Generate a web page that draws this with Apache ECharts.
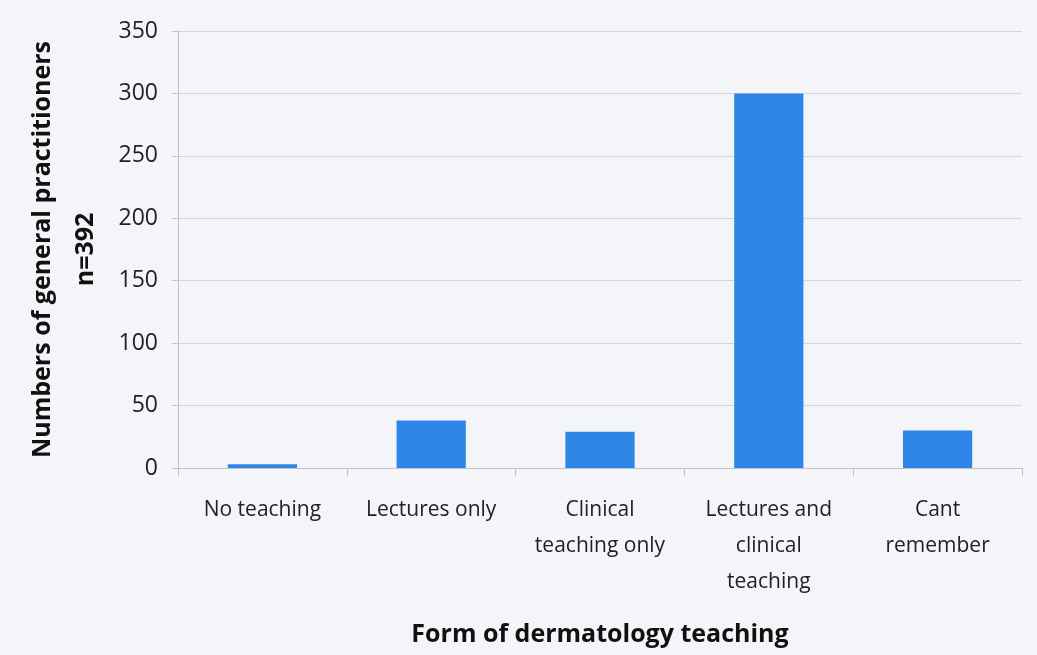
<!DOCTYPE html>
<html>
<head>
<meta charset="utf-8">
<script src="https://cdn.jsdelivr.net/npm/echarts@6/dist/echarts.min.js"></script>
<style>
  html, body { margin: 0; padding: 0; background: #f3f5f9; }
  #chart { width: 1037px; height: 655px; }
</style>
</head>
<body>
<div id="chart"></div>
<script>
// 数据
const categories = ['No teaching', 'Lectures only', 'Clinical\nteaching only', 'Lectures and\nclinical\nteaching', 'Cant\nremember'];
const counts = [3, 38, 29, 300, 30];
const yTicks = [0, 50, 100, 150, 200, 250, 300, 350];

const font = '"Open Sans", "DejaVu Sans", sans-serif';
const chart = echarts.init(document.getElementById('chart'));

const option = {
  backgroundColor: '#f3f5f9',
  textStyle: { fontFamily: font },
  grid: { left: 178, right: 15, top: 31, bottom: 187, containLabel: false, outerBoundsMode: 'none' },
  xAxis: {
    type: 'category',
    data: categories,
    name: 'Form of dermatology teaching',
    nameLocation: 'middle',
    nameGap: 154,
    nameTextStyle: { fontSize: 25, fontWeight: 'bold', color: '#111' },
    axisLine: { lineStyle: { color: '#bfc3c9' } },
    axisTick: { show: true, interval: 0, alignWithLabel: false, length: 8, lineStyle: { color: '#bfc3c9' } },
    axisLabel: { interval: 0, fontSize: 21, color: '#222', lineHeight: 36, margin: 24 }
  },
  yAxis: {
    type: 'value',
    min: yTicks[0],
    max: yTicks[yTicks.length - 1],
    interval: 50,
    name: 'Numbers of general practitioners\nn=392',
    nameLocation: 'middle',
    nameGap: 65,
    nameTextStyle: { fontSize: 25, fontWeight: 'bold', color: '#111', lineHeight: 43 },
    axisLine: { show: true, lineStyle: { color: '#bfc3c9' } },
    axisTick: { show: true, length: 6, lineStyle: { color: '#bfc3c9' } },
    axisLabel: { fontSize: 23, color: '#222', margin: 20 },
    splitLine: { lineStyle: { color: '#d3d6db' } }
  },
  series: [{
    type: 'bar',
    data: counts,
    barWidth: '41%',
    itemStyle: { color: '#2e86e8' }
  }]
};

chart.setOption(option);
</script>
</body>
</html>
